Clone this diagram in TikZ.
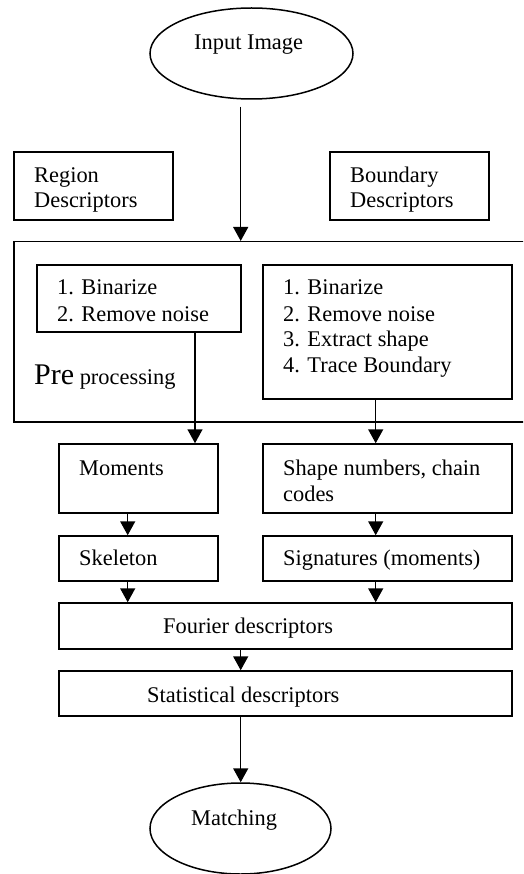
\documentclass[tikz,border=0pt]{standalone}
\usepackage{fontspec}
\setmainfont{Liberation Serif}
\usetikzlibrary{arrows.meta,shapes.geometric}
\begin{document}
\begin{tikzpicture}[x=1pt,y=-1pt,
  box/.style={draw,line width=1.5pt,rectangle,inner sep=0pt},
  oval/.style={draw,line width=1.5pt,ellipse,inner sep=0pt},
  txt/.style={anchor=base west,inner sep=0pt,font=\fontsize{22.4}{25.7}\selectfont},
  arr/.style={line width=1.5pt,-{Triangle[length=14pt,width=15pt]}}]
\useasboundingbox (0,0) rectangle (523,874);
\clip (0,0) rectangle (523,874);
% shapes
\node[oval,minimum width=203pt,minimum height=91pt] (input) at (251.5,53.5) {};
\node[oval,minimum width=181pt,minimum height=91pt] (match) at (240.5,828.5) {};
\node[box,minimum width=159pt,minimum height=68pt] (reg) at (93.5,186) {};
\node[box,minimum width=159pt,minimum height=68pt] (bnd) at (409.5,186) {};
\node[box,minimum width=526pt,minimum height=180.3pt] (pre) at (277,331.85) {};
\node[box,minimum width=204pt,minimum height=67pt] (bin1) at (139,298.5) {};
\node[box,minimum width=249pt,minimum height=134pt] (bin2) at (387.5,332) {};
\node[box,minimum width=159pt,minimum height=69pt] (mom) at (138.5,478.5) {};
\node[box,minimum width=249pt,minimum height=69pt] (shp) at (387.5,478.5) {};
\node[box,minimum width=159pt,minimum height=45pt] (skel) at (138.5,558.5) {};
\node[box,minimum width=249pt,minimum height=45pt] (sig) at (387.5,558.5) {};
\node[box,minimum width=453pt,minimum height=46pt] (four) at (285.5,626) {};
\node[box,minimum width=453pt,minimum height=45pt] (stat) at (285.5,693.5) {};
% texts
\node[txt] (t1) at (194,50) {Input Image};
\node[txt] (t2) at (34,182.7) {Region};
\node[txt] (t3) at (34,207.3) {Descriptors};
\node[txt] (t4) at (350,182.7) {Boundary};
\node[txt] (t5) at (350,207.3) {Descriptors};
\node[txt] (t6) at (57,294.3) {1. Binarize};
\node[txt] (t7) at (57,321) {2. Remove noise};
\node[txt] (t8) at (283,294.3) {1. Binarize};
\node[txt] (t9) at (283,321) {2. Remove noise};
\node[txt] (t10) at (283,346.7) {3. Extract shape};
\node[txt] (t11) at (283,372.7) {4. Trace Boundary};
\node[txt] (t12) at (34,384.3) {{\fontsize{30}{32}\selectfont Pre} processing};
\node[txt] (t13) at (79,475.7) {Moments};
\node[txt] (t14) at (283,475.7) {Shape numbers, chain};
\node[txt] (t15) at (283,501) {codes};
\node[txt] (t16) at (79,565.7) {Skeleton};
\node[txt] (t17) at (283,565.7) {Signatures (moments)};
\node[txt] (t18) at (163,633.3) {Fourier descriptors};
\node[txt] (t19) at (147,702) {Statistical descriptors};
\node[txt] (t20) at (191,825) {Matching};
% connectors
\coordinate (c0) at ([xshift=-10.8pt,yshift=-7pt]input.south);
\draw[arr] (c0) -- (c0 |- pre.north);
\coordinate (c1) at ([xshift=56pt]bin1.south);
\draw[arr] (c1) -- (c1 |- mom.north);
\coordinate (c2) at ([xshift=-11.8pt]bin2.south);
\draw[arr] (c2) -- (c2 |- shp.north);
\coordinate (c3) at ([xshift=-10.8pt]mom.south);
\draw[arr] (c3) -- (c3 |- skel.north);
\coordinate (c4) at ([xshift=-11.8pt]shp.south);
\draw[arr] (c4) -- (c4 |- sig.north);
\coordinate (c5) at ([xshift=-10.8pt]skel.south);
\draw[arr] (c5) -- (c5 |- four.north);
\coordinate (c6) at ([xshift=-11.8pt]sig.south);
\draw[arr] (c6) -- (c6 |- four.north);
\coordinate (c7) at ([xshift=-44.8pt]four.south);
\draw[arr] (c7) -- (c7 |- stat.north);
\coordinate (c8) at ([xshift=-44.8pt]stat.south);
\draw[arr] (c8) -- (c8 |- match.north);
\end{tikzpicture}
\end{document}
